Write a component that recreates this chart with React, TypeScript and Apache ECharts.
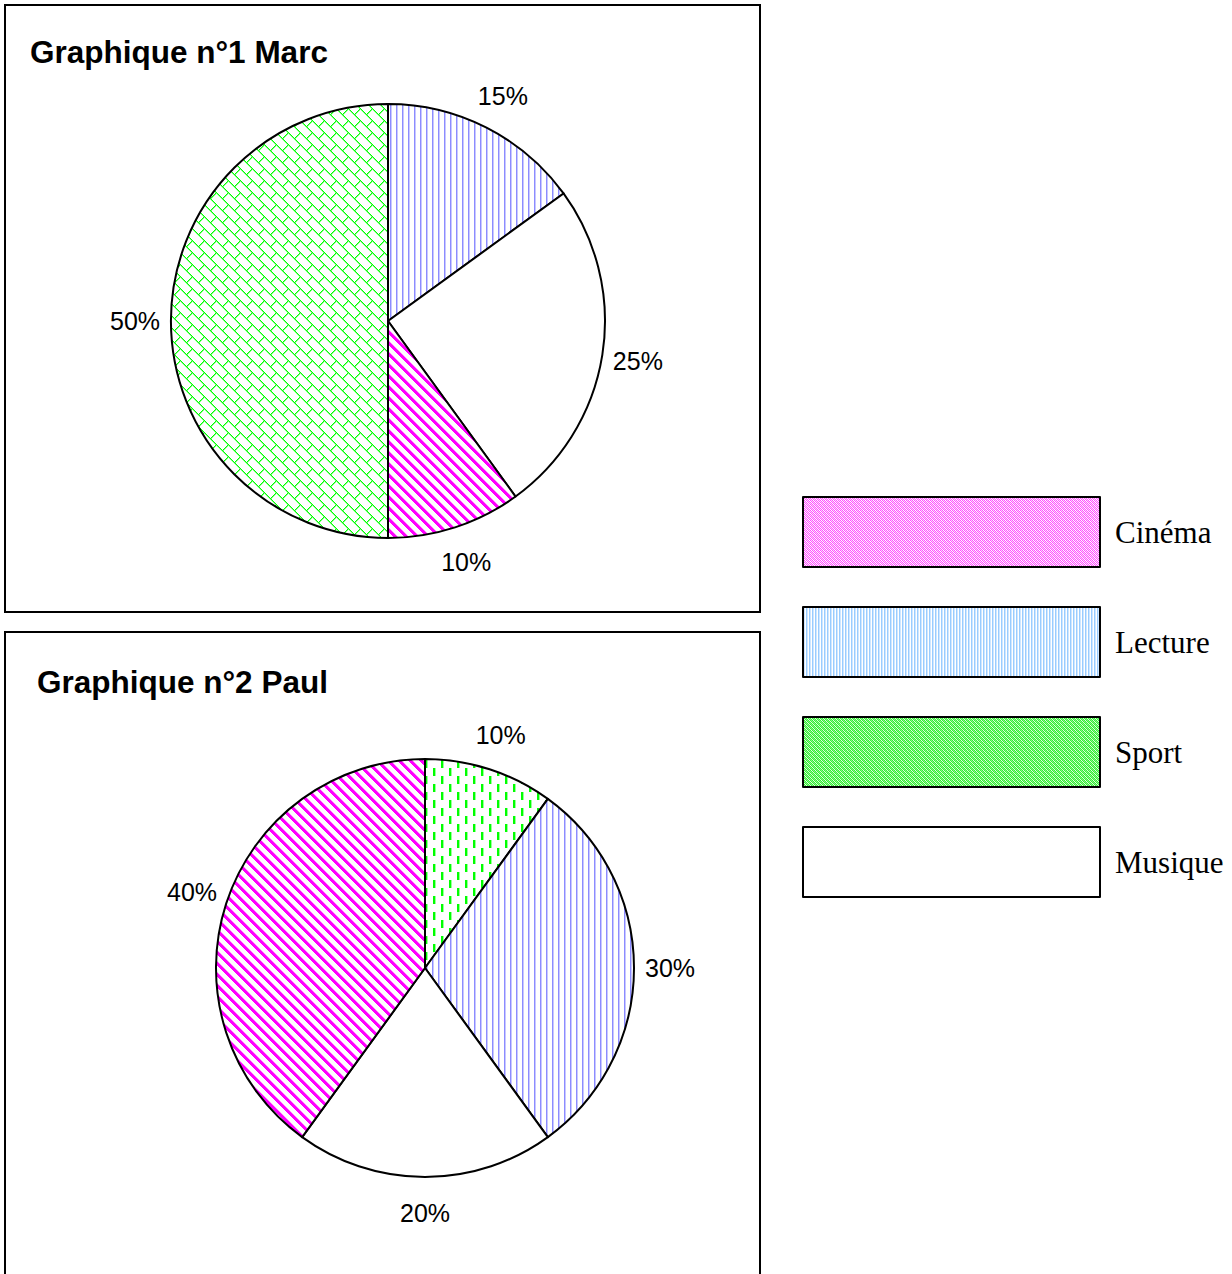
import React, { useEffect, useRef } from 'react';
import * as echarts from 'echarts';

// ---- data ----
const categories = ['Cinéma', 'Lecture', 'Sport', 'Musique'];
const marcNames = ['Lecture', 'Musique', 'Cinéma', 'Sport'];
const marcValues = [15, 25, 10, 50];
const paulNames = ['Sport', 'Lecture', 'Musique', 'Cinéma'];
const paulValues = [10, 30, 20, 40];
const titles = ['Graphique n°1 Marc', 'Graphique n°2 Paul'];

type PixFn = (x: number, y: number) => string | null;

function makeTile(w: number, h: number, fn: PixFn) {
  const c = document.createElement('canvas');
  c.width = w;
  c.height = h;
  const ctx = c.getContext('2d')!;
  ctx.fillStyle = '#ffffff';
  ctx.fillRect(0, 0, w, h);
  for (let y = 0; y < h; y++) {
    for (let x = 0; x < w; x++) {
      const col = fn(x, y);
      if (col) {
        ctx.fillStyle = col;
        ctx.fillRect(x, y, 1, 1);
      }
    }
  }
  return { image: c as any, repeat: 'repeat' as const };
}

const mod = (a: number, n: number) => ((a % n) + n) % n;

function buildPatterns() {
  const cinemaPie = makeTile(11, 11, (x, y) => {
    const d = mod(x - y, 11);
    if (d < 4) return '#ff00ff';
    if (d === 4) return '#ff99ff';
    return null;
  });
  const lecturePie = makeTile(6, 1, (x) => {
    if (x === 0) return '#8c8cff';
    if (x === 1) return '#c8c8ff';
    return null;
  });
  const sportBrick = makeTile(24, 24, (x, y) => {
    const v = mod(y - x, 24);
    const k = v < 12 ? 0 : 1;
    const u = x + y;
    if (v % 12 === 0) return '#00ff00';
    if (v % 12 === 1) return '#88ff88';
    const c = mod(u + k * 12, 24);
    if (c === 0) return '#00ff00';
    if (c === 1) return '#88ff88';
    return null;
  });
  const sportDash = makeTile(16, 16, (x, y) => {
    if (x >= 1 && x <= 3 && y < 8) return x === 3 ? '#99ff99' : '#00ff00';
    if (x >= 9 && x <= 11 && y >= 8) return x === 11 ? '#99ff99' : '#00ff00';
    return null;
  });
  const cinemaLegend = makeTile(4, 4, (x, y) => {
    if ((x + y) % 2 === 0) return '#ff55ff';
    if (mod(x - y, 4) === 1) return '#ffd0ff';
    return null;
  });
  const lectureLegend = makeTile(3, 1, (x) => {
    if (x === 0) return '#99ccff';
    if (x === 1) return '#cfe6ff';
    return null;
  });
  const sportLegend = makeTile(4, 4, (x, y) => {
    if ((x + y) % 2 === 0) return '#33ee33';
    if (mod(x - y, 4) === 1) return '#88f588';
    return '#e0ffe0';
  });
  return {
    pie1: { 'Cinéma': cinemaPie, 'Lecture': lecturePie, 'Sport': sportBrick, 'Musique': '#ffffff' } as Record<string, any>,
    pie2: { 'Cinéma': cinemaPie, 'Lecture': lecturePie, 'Sport': sportDash, 'Musique': '#ffffff' } as Record<string, any>,
    legend: { 'Cinéma': cinemaLegend, 'Lecture': lectureLegend, 'Sport': sportLegend, 'Musique': '#ffffff' } as Record<string, any>,
  };
}

export default function App() {
  const ref = useRef<HTMLDivElement>(null);
  useEffect(() => {
    if (!ref.current) return;
    const chart = echarts.init(ref.current, undefined, { renderer: 'svg' });
    const pats = buildPatterns();

    const pie = (center: number[], r: number, names: string[], values: number[], colors: Record<string, any>) => ({
      type: 'pie',
      center,
      radius: r,
      startAngle: 90,
      clockwise: true,
      silent: true,
      label: { show: false },
      labelLine: { show: false },
      emphasis: { disabled: true },
      itemStyle: { borderColor: '#000', borderWidth: 2 },
      data: names.map((n, i) => ({ name: n, value: values[i], itemStyle: { color: colors[n] } })),
    });
    const labelRing = (center: number[], r: number, names: string[], values: number[]) => ({
      type: 'pie',
      center,
      radius: [r, r + 66],
      startAngle: 90,
      clockwise: true,
      silent: true,
      emphasis: { disabled: true },
      itemStyle: { color: 'rgba(0,0,0,0)', borderWidth: 0 },
      label: {
        show: true,
        position: 'inside',
        formatter: '{c}%',
        color: '#000',
        fontSize: 25,
        fontFamily: 'Liberation Sans',
      },
      labelLine: { show: false },
      data: names.map((n, i) => ({ name: n, value: values[i] })),
    });

    chart.setOption({
      animation: false,
      backgroundColor: '#ffffff',
      legend: {
        orient: 'vertical',
        left: 802,
        top: 496,
        padding: 0,
        itemWidth: 297,
        itemHeight: 70,
        itemGap: 38,
        selectedMode: false,
        textStyle: { fontFamily: 'Liberation Serif', fontSize: 31, color: '#000', padding: [0, 0, 0, 10] },
        data: categories.map((n) => ({
          name: n,
          icon: 'rect',
          itemStyle: { color: pats.legend[n], borderColor: '#000', borderWidth: 2 },
        })),
      },
      graphic: [
        { type: 'rect', shape: { x: 5, y: 5, width: 755, height: 607 }, style: { fill: 'none', stroke: '#000', lineWidth: 2 }, silent: true },
        { type: 'rect', shape: { x: 5, y: 632, width: 755, height: 700 }, style: { fill: 'none', stroke: '#000', lineWidth: 2 }, silent: true },
        { type: 'text', x: 30, y: 52, style: { text: titles[0], fontFamily: 'Liberation Sans', fontWeight: 'bold', fontSize: 31.5, fill: '#000', verticalAlign: 'middle' } },
        { type: 'text', x: 37, y: 682, style: { text: titles[1], fontFamily: 'Liberation Sans', fontWeight: 'bold', fontSize: 31.5, fill: '#000', verticalAlign: 'middle' } },
      ],
      series: [
        pie([388, 321], 217, marcNames, marcValues, pats.pie1),
        labelRing([388, 321], 217, marcNames, marcValues),
        pie([425, 968], 209, paulNames, paulValues, pats.pie2),
        labelRing([425, 968], 209, paulNames, paulValues),
      ],
    });
    return () => chart.dispose();
  }, []);
  return <div ref={ref} style={{ position: 'absolute', left: 0, top: 0, width: 1232, height: 1274 }} />;
}
